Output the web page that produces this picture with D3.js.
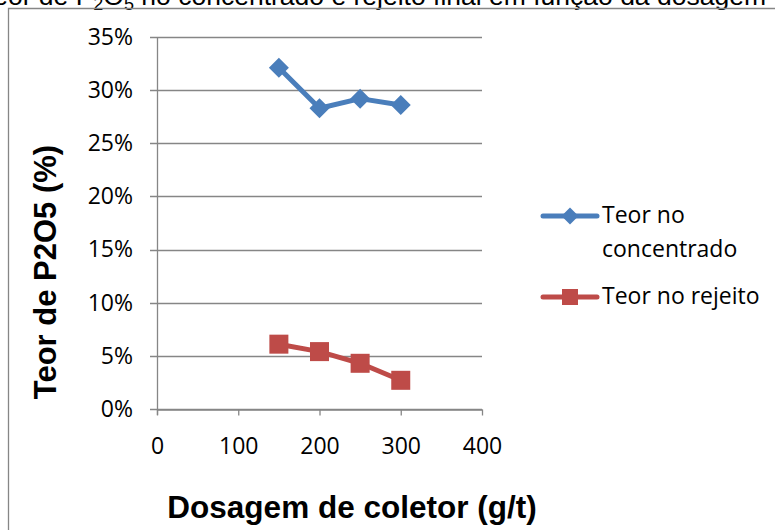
<!DOCTYPE html>
<html>
<head>
<meta charset="utf-8">
<script src="https://cdn.jsdelivr.net/npm/d3@7"></script>
<style>
  body { margin: 0; background: #fff; }
  svg { display: block; }
</style>
</head>
<body>
<svg id="chart" width="775" height="530"></svg>
<script>
const dosagem = [150, 200, 250, 300];
const teorConcentrado = [0.321, 0.283, 0.292, 0.286];
const teorRejeito = [0.061, 0.054, 0.043, 0.027];
const seriesNames = ["Teor no concentrado", "Teor no rejeito"];
const seriesColors = ["#4A7EBB", "#BE4B48"];
const xTicks = [0, 100, 200, 300, 400];
const yTicks = [0, 0.05, 0.10, 0.15, 0.20, 0.25, 0.30, 0.35];

const svg = d3.select("#chart");
const tickFont = "'Open Sans', Lato, sans-serif";
const tickSize = "23px";

// clipped title at top
const title = svg.append("text")
  .attr("x", 766).attr("y", 5)
  .attr("text-anchor", "end")
  .style("font-family", "'Liberation Sans', Arial, sans-serif")
  .style("font-size", "26.5px")
  .attr("fill", "#000");
title.append("tspan").text("Teor de P");
title.append("tspan").attr("dy", 5).style("font-size", "18px").text("2");
title.append("tspan").attr("dy", -5).text("O");
title.append("tspan").attr("dy", 5).style("font-size", "18px").text("5");
title.append("tspan").attr("dy", -5).text(" no concentrado e rejeito final em função da dosagem");

// chart frame
svg.append("path")
  .attr("d", "M8.5,535 L8.5,8.5 L780,8.5")
  .attr("fill", "none").attr("stroke", "#868686").attr("stroke-width", 1.3);

const x = d3.scaleLinear().domain([0, 400]).range([157, 482]);
const y = d3.scaleLinear().domain([0, 0.35]).range([409, 37]);

// gridlines
svg.append("g").selectAll("line").data(yTicks).join("line")
  .attr("x1", 150).attr("x2", x(400))
  .attr("y1", d => Math.round(y(d)) + 0.5).attr("y2", d => Math.round(y(d)) + 0.5)
  .attr("stroke", "#868686").attr("stroke-width", 1.3);

// y axis line
svg.append("line")
  .attr("x1", x(0) + 0.5).attr("x2", x(0) + 0.5)
  .attr("y1", y(0.35)).attr("y2", y(0) + 6)
  .attr("stroke", "#868686").attr("stroke-width", 1.3);

// x axis
const xAxis = svg.append("g")
  .attr("transform", `translate(0,${Math.round(y(0)) + 0.5})`)
  .call(d3.axisBottom(x).tickValues(xTicks).tickSize(6).tickSizeOuter(0).tickPadding(22));
xAxis.select(".domain").attr("stroke", "#868686").attr("stroke-width", 1.3);
xAxis.selectAll(".tick line").attr("stroke", "#868686").attr("stroke-width", 1.3);
xAxis.selectAll(".tick text")
  .style("font-family", tickFont).style("font-size", tickSize).attr("fill", "#000");

// y tick labels
const yAxis = svg.append("g")
  .attr("transform", `translate(${x(0)},0)`)
  .call(d3.axisLeft(y).tickValues(yTicks).tickSize(0).tickPadding(24).tickFormat(d3.format(".0%")));
yAxis.select(".domain").remove();
yAxis.selectAll(".tick text")
  .style("font-family", tickFont).style("font-size", tickSize).attr("fill", "#000");

// axis titles
svg.append("text")
  .attr("x", 352).attr("y", 518)
  .attr("text-anchor", "middle")
  .style("font-family", "'Liberation Sans', Arial, sans-serif")
  .style("font-size", "31.5px").style("font-weight", "bold")
  .text("Dosagem de coletor (g/t)");

svg.append("text")
  .attr("transform", "translate(56,272) rotate(-90)")
  .attr("text-anchor", "middle")
  .style("font-family", "'Liberation Sans', Arial, sans-serif")
  .style("font-size", "31px").style("font-weight", "bold")
  .text("Teor de P2O5 (%)");

// series
const line = d3.line().x(d => x(d[0])).y(d => y(d[1]));
const data = [
  dosagem.map((d, i) => [d, teorConcentrado[i]]),
  dosagem.map((d, i) => [d, teorRejeito[i]])
];

function drawMarker(g, type, cx, cy, color, size) {
  if (type === 0) {
    const r = size / 2;
    g.append("path")
      .attr("d", `M${cx},${cy - r} L${cx + r},${cy} L${cx},${cy + r} L${cx - r},${cy} Z`)
      .attr("fill", color);
  } else {
    const s = size - 1;
    g.append("rect")
      .attr("x", cx - s / 2).attr("y", cy - s / 2)
      .attr("width", s).attr("height", s)
      .attr("fill", color);
  }
}

data.forEach((pts, si) => {
  const g = svg.append("g");
  g.append("path").datum(pts)
    .attr("d", line)
    .attr("fill", "none")
    .attr("stroke", seriesColors[si])
    .attr("stroke-width", 5)
    .attr("stroke-linejoin", "round").attr("stroke-linecap", "round");
  pts.forEach(p => drawMarker(g, si, x(p[0]), y(p[1]), seriesColors[si], 20));
});

// legend
const legendY = [216, 297];
seriesNames.forEach((name, i) => {
  const g = svg.append("g");
  g.append("line")
    .attr("x1", 543).attr("x2", 597)
    .attr("y1", legendY[i]).attr("y2", legendY[i])
    .attr("stroke", seriesColors[i]).attr("stroke-width", 5)
    .attr("stroke-linecap", "round");
  drawMarker(g, i, 570, legendY[i], seriesColors[i], 17);
  const t = g.append("text")
    .attr("x", 602)
    .style("font-family", tickFont).style("font-size", tickSize).attr("fill", "#000");
  if (i === 0) {
    t.append("tspan").attr("x", 602).attr("y", 223).text("Teor no");
    t.append("tspan").attr("x", 602).attr("y", 257).text("concentrado");
  } else {
    t.append("tspan").attr("x", 602).attr("y", 304).text(name);
  }
});
</script>
</body>
</html>
